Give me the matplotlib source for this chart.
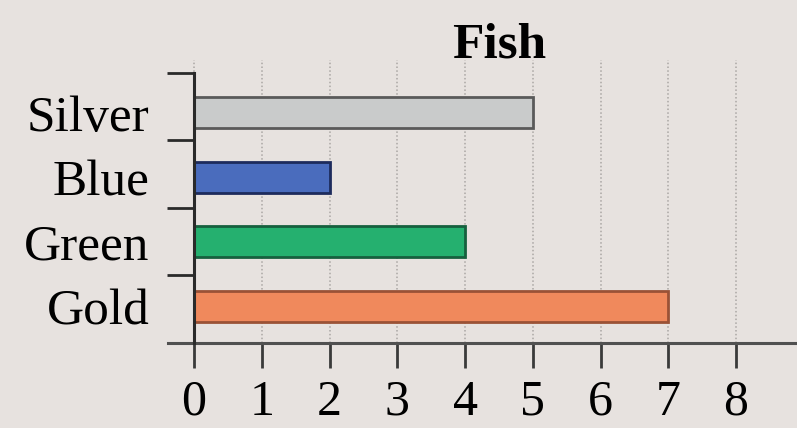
import numpy as np
import matplotlib
matplotlib.use("Agg")
import matplotlib.pyplot as plt

# data
fish = ["Gold", "Green", "Blue", "Silver"]
counts = [7, 4, 2, 5]
bar_colors = ["#f0895c", "#25b06f", "#4a6cbd", "#c9cbcb"]
edge_colors = ["#9a5236", "#16603e", "#1d2b5c", "#5a5a5a"]
xticks = list(range(0, 9))

plt.rcParams['font.family'] = ['Liberation Serif', 'DejaVu Serif']
bg = "#e7e2df"

fig = plt.figure(figsize=(7.97, 4.28), dpi=100, facecolor=bg)
ax = fig.add_axes([168 / 797, 85 / 428, 629 / 797, 283 / 428], facecolor=bg)

ypos = np.arange(len(fish))
ax.barh(ypos, counts, height=0.48, color=bar_colors, edgecolor=edge_colors,
        linewidth=2.0, zorder=3)

ax.set_xlim(-0.384, 8.9)
ax.set_ylim(-0.566, 3.82)

# spines
for s in ["top", "right"]:
    ax.spines[s].set_visible(False)
ax.spines["left"].set_position(("data", 0))
ax.spines["left"].set_bounds(-0.566, 3.62)
ax.spines["left"].set_linewidth(2.2)
ax.spines["left"].set_color("#2a2a2a")
ax.spines["bottom"].set_linewidth(2.2)
ax.spines["bottom"].set_color("#505050")
ax.spines["left"].set_zorder(4)

# x ticks
ax.set_xticks(xticks)
ax.set_xticklabels([str(t) for t in xticks])
ax.tick_params(axis="x", direction="out", length=18, width=2, color="#3a3a3a",
               labelsize=36, pad=8)
ax.grid(axis="x", linestyle=(0, (1, 1.5)), color="#aaa6a4", linewidth=1.1, zorder=0)

# y ticks: boundaries as major, labels as minor
bounds = -0.566 + 1.047 * np.arange(5)
ax.set_yticks(bounds)
ax.set_yticklabels([])
ax.tick_params(axis="y", which="major", direction="out", length=19.5, width=2,
               color="#2a2a2a")
ax.set_yticks(ypos, minor=True)
ax.set_yticklabels(fish, minor=True)
ax.tick_params(axis="y", which="minor", length=0, labelsize=37, pad=32)

fig.text(499 / 797, (428 - 58) / 428, "Fish", ha="center", va="baseline",
         fontsize=37, fontweight="bold")

fig.savefig("out.png", dpi=100, facecolor=bg)
